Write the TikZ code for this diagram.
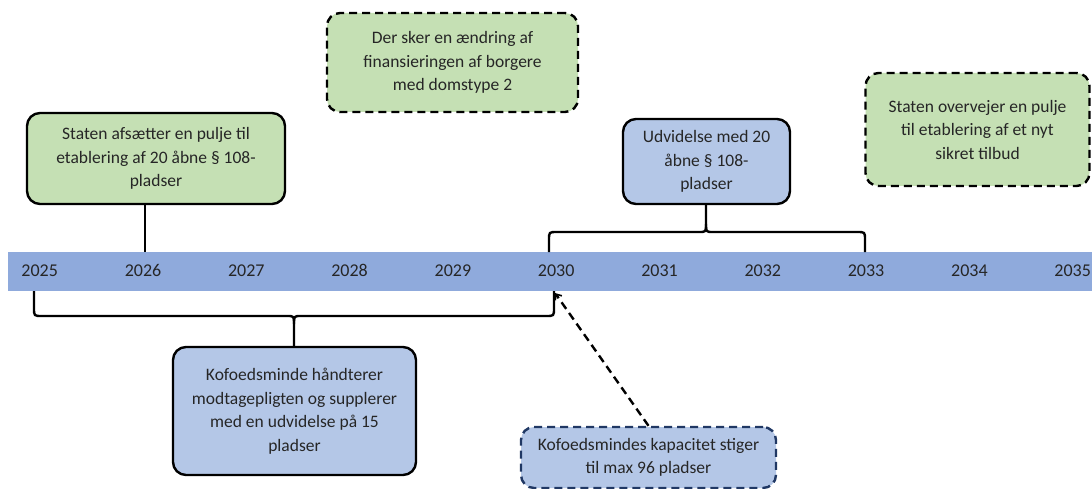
\documentclass[tikz,border=0pt]{standalone}
\usepackage{fontspec}
\setmainfont{Carlito}
\usetikzlibrary{arrows.meta}
\definecolor{bandc}{HTML}{8FAADC}
\definecolor{greenc}{HTML}{C5E0B4}
\definecolor{bluec}{HTML}{B4C7E7}
\definecolor{navyc}{HTML}{203864}
\definecolor{txtc}{HTML}{262626}
\tikzset{
  box/.style={rectangle, rounded corners=13pt, line width=2.4pt, draw=black,
    align=center, text=txtc, inner sep=0pt,
    font=\fontsize{17.5}{23.5}\selectfont},
  dashbox/.style={box, dash pattern=on 8pt off 5pt},
  yearlbl/.style={text=txtc, font=\fontsize{18}{20}\selectfont, inner sep=0pt, anchor=base},
  brace/.style={line width=2.4pt, draw=black, line join=round},
}
\begin{document}
\begin{tikzpicture}[x=1pt, y=-1pt]
\clip (0,0) rectangle (1092,489);
\fill[white] (0,0) rectangle (1092,489);
% band
\fill[bandc] (8,252) rectangle (1092,291);
\foreach \i/\yr in {0/2025,1/2026,2/2027,3/2028,4/2029,5/2030,6/2031,7/2032,8/2033,9/2034,10/2035}{
  \node[yearlbl] (y\yr) at ({39.7+103.3*\i},276.5) {\yr};
}
% coordinates on band
\coordinate (b26top) at (145,252);
\coordinate (b30top) at (549,252);
\coordinate (b33top) at (865,252);
\coordinate (b25bot) at (34,291);
\coordinate (b30bot) at (554,291);
\coordinate (arrend) at (555,293);
% boxes
\node[box, fill=greenc, minimum width=258pt, minimum height=91pt] (n1) at (156,158.5)
  {Staten afsætter en pulje til\\etablering af 20 åbne § 108-\\pladser};
\node[dashbox, fill=greenc, minimum width=251pt, minimum height=99pt] (n2) at (452.5,62.5)
  {Der sker en ændring af\\finansieringen af borgere\\med domstype 2};
\node[box, fill=bluec, minimum width=167pt, minimum height=85pt] (n3) at (706.5,161.5)
  {Udvidelse med 20\\åbne § 108-\\pladser};
\node[dashbox, fill=greenc, minimum width=224pt, minimum height=113pt] (n4) at (977.5,129.5)
  {Staten overvejer en pulje\\til etablering af et nyt\\sikret tilbud};
\node[box, fill=bluec, minimum width=243pt, minimum height=128pt] (n5) at (294.5,411)
  {Kofoedsminde håndterer\\modtagepligten og supplerer\\med en udvidelse på 15\\pladser};
\node[dashbox, draw=navyc, fill=bluec, minimum width=255pt, minimum height=61pt] (n6) at (648.5,457.5)
  {Kofoedsmindes kapacitet stiger\\til max 96 pladser};
% connector box 1
\draw[brace] (n1.south -| b26top) -- (b26top);
% top brace
\draw[brace] (b30top) -- (549,240) .. controls (549,232) .. (557,232) -- (699,232)
  .. controls (706,232) .. (706,224) -- (n3.south -| 706,0);
\draw[brace] (706,224) .. controls (706,232) .. (713,232) -- (857,232)
  .. controls (865,232) .. (865,240) -- (b33top);
% bottom brace
\draw[brace] (b25bot) -- (34,308) .. controls (34,316) .. (42,316) -- (287,316)
  .. controls (294,316) .. (294,324) -- (n5.north -| 294,0);
\draw[brace] (294,324) .. controls (294,316) .. (301,316) -- (546,316)
  .. controls (554,316) .. (554,308) -- (b30bot);
% dashed arrow
\draw[line width=2.4pt, dash pattern=on 8pt off 5pt, -{Straight Barb[length=5pt,width=8pt,line width=1.6pt]}]
  (n6.north) -- (arrend);
\end{tikzpicture}
\end{document}
